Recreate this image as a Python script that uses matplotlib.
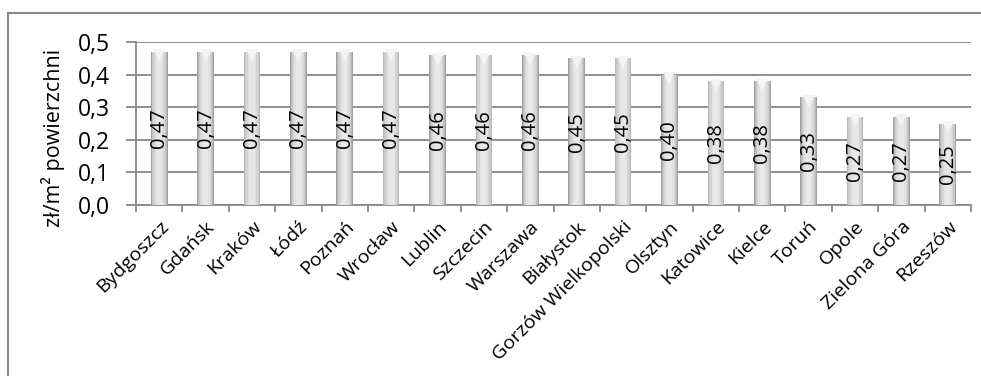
import matplotlib
matplotlib.use("Agg")
import matplotlib.pyplot as plt
import matplotlib.transforms as mtransforms
from matplotlib.lines import Line2D
import numpy as np

plt.rcParams['font.family'] = ['Open Sans', 'DejaVu Sans']

cities = ['Bydgoszcz', 'Gdańsk', 'Kraków', 'Łódź', 'Poznań', 'Wrocław', 'Lublin',
          'Szczecin', 'Warszawa', 'Białystok', 'Gorzów Wielkopolski', 'Olsztyn',
          'Katowice', 'Kielce', 'Toruń', 'Opole', 'Zielona Góra', 'Rzeszów']
rates = [0.47, 0.47, 0.47, 0.47, 0.47, 0.47, 0.46, 0.46, 0.46, 0.45, 0.45,
         0.40, 0.38, 0.38, 0.33, 0.27, 0.27, 0.25]
yticks = [0.0, 0.1, 0.2, 0.3, 0.4, 0.5]
ytick_labels = ['0,0', '0,1', '0,2', '0,3', '0,4', '0,5']

fig = plt.figure(figsize=(9.81, 3.76), dpi=100)
ax = fig.add_axes([136 / 981, 1 - 205 / 376, 835 / 981, 163 / 376])

x = np.arange(len(cities))
grid_col = '#888888'

# shaded cylinder-like bars: stack of narrowing bars getting lighter towards the centre
shades = ['#a0a0a0', '#b8b8b8', '#c9c9c9', '#d6d6d6', '#e0e0e0', '#e8e8e8']
widths = [0.36, 0.33, 0.29, 0.24, 0.18, 0.11]
for w, c in zip(widths, shades):
    ax.bar(x, rates, width=w, color=c, linewidth=0, zorder=3)

# light bevel notch at the top of each bar
notch = mtransforms.offset_copy(ax.transData, fig=fig, x=0, y=-3.5, units='dots')
ax.plot(x, rates, linestyle='none', marker='v', markersize=9, color='#f4f4f4',
        markeredgewidth=0, transform=notch, zorder=3.5, clip_on=False)

for xi, v in zip(x, rates):
    ax.text(xi, v / 2, f'{v:.2f}'.replace('.', ','), rotation=90, ha='center',
            va='center', fontsize=14.5, color='black', zorder=4)

ax.set_ylim(0, 0.5)
ax.set_xlim(-0.5, len(cities) - 0.5)
ax.set_yticks(yticks)
ax.set_yticklabels(ytick_labels, fontsize=16.5)
ax.yaxis.grid(True, color=grid_col, linewidth=1.3, zorder=0)
ax.set_axisbelow(True)

ax.set_xticks(x)
ax.set_xticklabels(cities, rotation=45, ha='right', va='top', rotation_mode='anchor',
                   fontsize=14)
ax.tick_params(axis='x', length=0, pad=9)
ax.set_xticks(np.arange(-0.5, len(cities)), minor=True)
ax.tick_params(axis='x', which='minor', length=5, width=1.3, color=grid_col)
ax.tick_params(axis='y', length=7, width=1.3, color=grid_col, pad=12)

for s in ['top', 'right']:
    ax.spines[s].set_visible(False)
for s in ['left', 'bottom']:
    ax.spines[s].set_color(grid_col)
    ax.spines[s].set_linewidth(1.3)

ax.set_ylabel('zł/m² powierzchni', fontsize=15.5)
ax.yaxis.set_label_coords(-0.085, 0.41)

# chart frame
fig.add_artist(Line2D([8 / 981, 1], [1 - 13 / 376] * 2, color=grid_col, lw=1.5))
fig.add_artist(Line2D([8 / 981] * 2, [0, 1 - 13 / 376], color=grid_col, lw=1.5))

fig.savefig('out.png', dpi=100, facecolor='white')
